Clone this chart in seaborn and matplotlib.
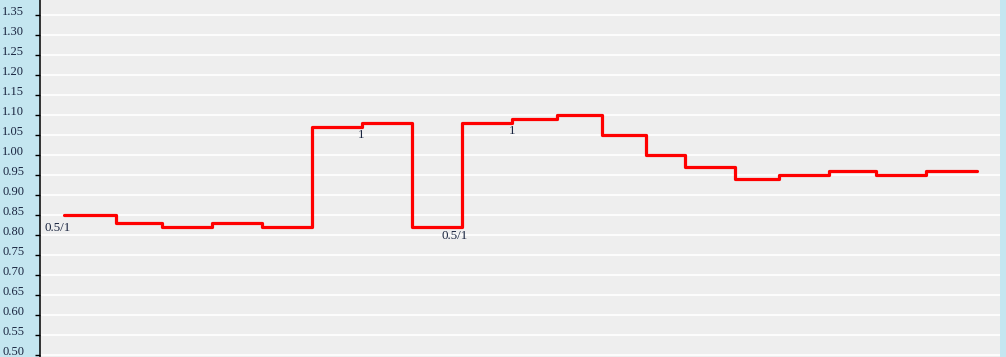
import numpy as np
import pandas as pd
import matplotlib
matplotlib.use("Agg")
import matplotlib.pyplot as plt
import seaborn as sns

# step positions (x) and values (y); last value repeats to close the final step
t = [64, 116, 162, 212, 262, 312, 362, 412, 462, 512, 557, 602, 646, 685, 735, 779, 829, 876, 926, 977]
v = [0.85, 0.83, 0.82, 0.83, 0.82, 1.07, 1.08, 0.82, 1.08, 1.09, 1.10, 1.05, 1.00, 0.97, 0.94, 0.95, 0.96, 0.95, 0.96, 0.96]

yticks = [round(0.50 + 0.05 * i, 2) for i in range(18)]
ytick_labels = [f"{y:.2f}" for y in yticks]

label_idx = [0, 6, 7, 9]
label_txt = ["0.5/1", "1", "0.5/1", "1"]
label_off_px = [(-6, -13), (-1, -12), (43, -9), (0, -12)]

sns.set_style("white")
plt.rcParams["font.family"] = ["Liberation Serif", "DejaVu Serif"]

W, H = 1006, 357
fig = plt.figure(figsize=(W / 100, H / 100), dpi=100, facecolor="#c4e6f0")
ax = fig.add_axes([40 / W, 0, 960 / W, 1])
ax.set_facecolor("#eeeeee")

df = pd.DataFrame({"t": t, "v": v})
sns.lineplot(data=df, x="t", y="v", ax=ax, color="#ff0000", linewidth=2.3,
             drawstyle="steps-post", sort=False, zorder=3)

ax.set_xlim(40, 1000)
ax.set_ylim(1.35 - 342 / 400, 1.35 + 15 / 400)
ax.set_yticks(yticks)
ax.set_yticklabels(ytick_labels)
ax.set_xticks([])
ax.set_xlabel("")
ax.set_ylabel("")
ax.grid(axis="y", color="white", linewidth=1.2, zorder=1)
for s in ["top", "right", "bottom"]:
    ax.spines[s].set_visible(False)
ax.spines["left"].set_color("black")
ax.spines["left"].set_linewidth(1.1)
ax.tick_params(axis="y", direction="out", length=3.6, width=1.0, color="black",
               pad=7.8, labelsize=9.0, labelcolor="#1a2540", left=True)
for lbl in ax.get_yticklabels():
    lbl.set_verticalalignment("baseline")

for i, txt, (dx, dy) in zip(label_idx, label_txt, label_off_px):
    ax.annotate(txt, (t[i], v[i]), xytext=(dx * 0.72, dy * 0.72), textcoords="offset points",
                ha="center", va="center", fontsize=9.4, color="#1a2540", zorder=4)

fig.savefig("out.png", dpi=100, facecolor=fig.get_facecolor())
